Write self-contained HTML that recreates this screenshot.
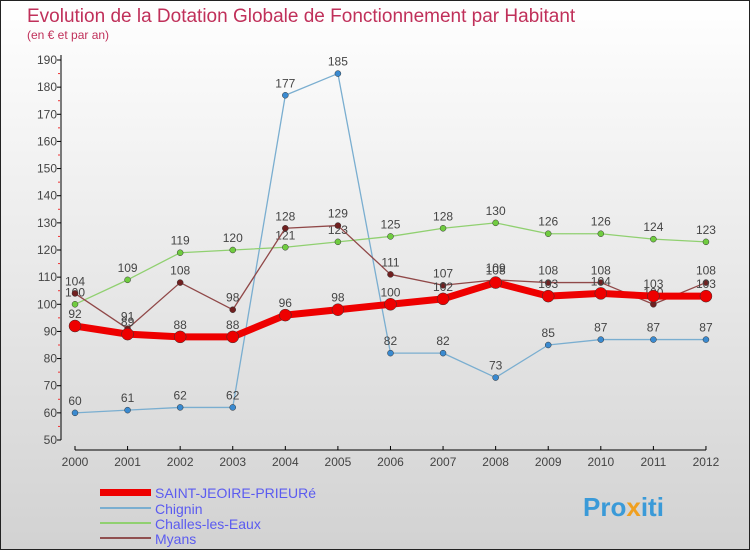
<!DOCTYPE html>
<html><head><meta charset="utf-8"><style>
body{margin:0;width:750px;height:550px;overflow:hidden;font-family:"Liberation Sans",sans-serif}
</style></head><body>
<svg width="750" height="550" xmlns="http://www.w3.org/2000/svg" font-family="Liberation Sans, sans-serif">
<defs><linearGradient id="bg" x1="0" y1="0" x2="0" y2="1"><stop offset="0" stop-color="#ffffff"/><stop offset="1" stop-color="#d2d2d2"/></linearGradient></defs>
<rect x="0.5" y="0.5" width="749" height="549" fill="url(#bg)" stroke="#222"/>
<text x="27" y="22" font-size="19" fill="#c0305a">Evolution de la Dotation Globale de Fonctionnement par Habitant</text>
<text x="27" y="39" font-size="12" fill="#c0305a">(en € et par an)</text>
<g id="axes"></g>
<g id="series"></g>
<g>
<rect x="100" y="489" width="51" height="7" fill="#e00"/>
<text x="155" y="498" font-size="14" fill="#5b5bf0">SAINT-JEOIRE-PRIEURé</text>
<rect x="100" y="507" width="51" height="2" fill="#7aaed0"/>
<text x="155" y="514" font-size="14" fill="#5b5bf0">Chignin</text>
<rect x="100" y="522" width="51" height="2" fill="#90d070"/>
<text x="155" y="529" font-size="14" fill="#5b5bf0">Challes-les-Eaux</text>
<rect x="100" y="537" width="51" height="2" fill="#905050"/>
<text x="155" y="544" font-size="14" fill="#5b5bf0">Myans</text>
</g>
<text x="583" y="516" font-size="26" font-weight="bold" fill="#3a9ad8">Pro<tspan fill="#f0a020">x</tspan>iti</text>
</svg>
<script>
const years=[2000,2001,2002,2003,2004,2005,2006,2007,2008,2009,2010,2011,2012];
const saint=[92,89,88,88,96,98,100,102,108,103,104,103,103];
const chignin=[60,61,62,62,177,185,82,82,73,85,87,87,87];
const challes=[100,109,119,120,121,123,125,128,130,126,126,124,123];
const myans=[104,91,108,98,128,129,111,107,109,108,108,100,108];
const yTicks=[50,60,70,80,90,100,110,120,130,140,150,160,170,180,190];
const NS="http://www.w3.org/2000/svg";
const X=i=>75+i*52.58, Y=v=>440-(v-50)*(380/140);
function mk(t,a,p){const e=document.createElementNS(NS,t);for(const k in a)e.setAttribute(k,a[k]);p.appendChild(e);return e;}
const ax=document.getElementById('axes');
let l=mk('line',{x1:61,y1:55,x2:61,y2:440,stroke:'#000'},ax);

l=mk('line',{x1:75,y1:450,x2:706,y2:450,stroke:'#000'},ax);

yTicks.forEach((v,i)=>{mk('line',{x1:57,y1:Y(v),x2:61,y2:Y(v),stroke:'#000'},ax);
 if(i>0)mk('line',{x1:58,y1:Y(v-5),x2:60,y2:Y(v-5),stroke:'#e33'},ax);
 const t=mk('text',{x:57,y:Y(v)+4,'font-size':12,fill:'#444','text-anchor':'end'},ax);t.textContent=v;
 });
years.forEach((y,i)=>{mk('line',{x1:X(i),y1:446,x2:X(i),y2:450,stroke:'#000'},ax);
 const t=mk('text',{x:X(i),y:466,'font-size':12,fill:'#444','text-anchor':'middle'},ax);t.textContent=y;
 });
const sg=document.getElementById('series');
function draw(name,d,col,w,dot,r,lab){
 const g=mk('g',{},sg);
 const p=mk('polyline',{points:d.map((v,i)=>X(i)+','+Y(v)).join(' '),fill:'none',stroke:col,'stroke-width':w,'stroke-linejoin':'round'},g);
 
 d.forEach((v,i)=>{const c=mk('circle',{cx:X(i),cy:Y(v),r:r,fill:dot,stroke:'#333','stroke-width':0.5},g);
  
  const t=mk('text',{x:X(i),y:Y(v)-8,'font-size':12,fill:'#444','text-anchor':'middle'},g);t.textContent=v;
  });
}
draw('chignin',chignin,'#7aaed0',1.3,'#3a8ad0',3);
draw('challes',challes,'#90d070',1.3,'#70cc40',3);
draw('myans',myans,'#904848',1.3,'#702020',3);
draw('saint',saint,'#ee0000',7,'#ee0000',6);
</script>
</body></html>
